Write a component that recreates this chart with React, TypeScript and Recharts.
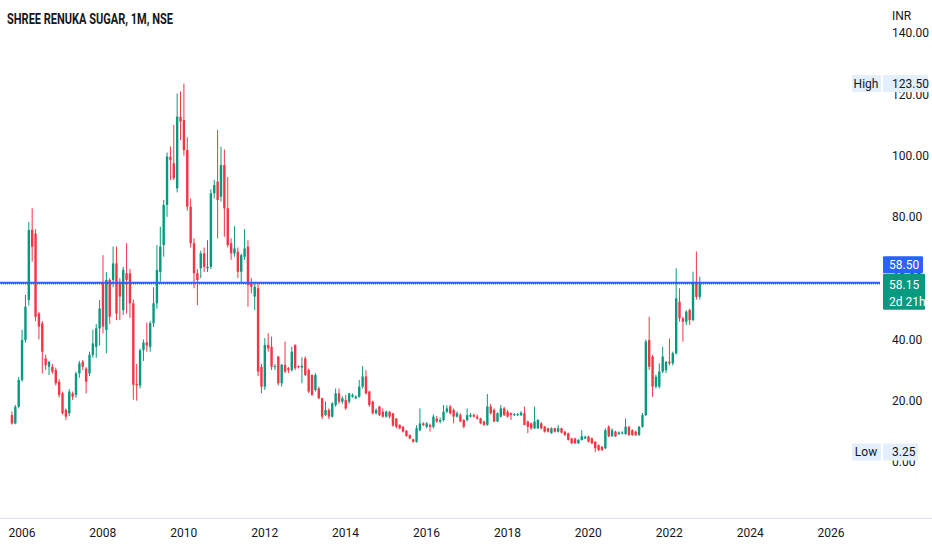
import React from 'react';
import { ComposedChart, Bar, XAxis, YAxis, ReferenceLine } from 'recharts';

/* Monthly candles, NSE: SHREERENUKA — [open, high, low, close], first bar Oct 2005 */
const candles2005to2007: number[][] = [
  [15.3, 16.5, 12.2, 12.6], [12.6, 18.6, 12.3, 18.0], [18.0, 27.8, 17.5, 26.8],
  [26.8, 43.1, 26.2, 39.8], [39.8, 54.5, 39.0, 50.7], [52.9, 78.4, 51.0, 75.7], [75.7, 82.8, 65.4, 70.3],
  [74.6, 76.0, 46.0, 47.4], [48.5, 49.0, 40.0, 44.2], [45.2, 46.0, 28.9, 36.0], [33.8, 35.0, 30.0, 31.6],
  [31.1, 33.0, 28.4, 32.7], [31.1, 32.0, 28.8, 29.5], [30.0, 30.8, 25.0, 25.7], [26.2, 27.0, 21.0, 21.9],
  [22.4, 23.0, 15.5, 15.9], [17.0, 17.5, 13.7, 14.8], [15.9, 23.8, 15.0, 23.0], [22.4, 23.0, 20.2, 21.3],
  [21.9, 29.5, 21.0, 28.9], [28.9, 33.0, 27.5, 32.2], [32.7, 33.3, 30.0, 31.1], [30.5, 31.0, 22.4, 26.2],
  [28.9, 36.0, 28.0, 35.0], [34.9, 43.1, 34.0, 38.7], [37.6, 45.0, 34.0, 43.6], [43.6, 52.9, 38.0, 50.1],
];
const candles2008to2009: number[][] = [
  [58.3, 67.5, 42.0, 44.2], [43.1, 62.0, 35.5, 59.4], [59.4, 60.0, 45.0, 47.4], [59.4, 70.3, 57.0, 64.8],
  [64.8, 70.3, 46.3, 48.5], [58.3, 60.0, 46.3, 54.0], [49.6, 63.7, 48.0, 62.7], [61.6, 71.4, 48.5, 59.4],
  [61.6, 63.0, 47.0, 51.8], [51.8, 53.0, 20.3, 25.2], [25.5, 32.0, 20.0, 25.0], [25.0, 37.0, 24.0, 36.5],
  [36.5, 40.0, 33.0, 39.0], [39.0, 45.5, 36.0, 38.0], [37.6, 46.0, 36.0, 45.3], [45.3, 57.0, 44.0, 51.8],
  [51.8, 70.8, 50.0, 62.7], [62.0, 76.8, 58.8, 70.3], [70.8, 85.5, 67.0, 83.9], [83.9, 101.0, 80.0, 99.7],
  [99.6, 103.0, 92.0, 98.6], [97.5, 110.0, 92.0, 92.6], [89.3, 120.3, 88.0, 112.7], [112.7, 120.9, 105.0, 111.1],
];
const candles2010to2011: number[][] = [
  [111.6, 123.5, 100.0, 101.8], [101.8, 106.0, 82.0, 83.3], [83.3, 86.0, 70.0, 71.4], [71.4, 73.0, 56.7, 61.6],
  [61.6, 63.0, 51.2, 59.4], [63.2, 69.0, 60.0, 68.1], [68.1, 70.0, 62.0, 63.7], [63.2, 72.4, 62.0, 63.7],
  [63.7, 89.0, 63.0, 87.7], [87.7, 92.0, 86.0, 90.4], [91.5, 108.4, 73.0, 85.5], [86.6, 102.9, 85.0, 96.9],
  [96.9, 102.0, 73.5, 82.8], [82.8, 93.0, 70.0, 70.8], [71.4, 73.0, 66.0, 68.1], [68.1, 77.0, 67.0, 69.7],
  [68.6, 70.0, 60.0, 62.1], [62.1, 68.0, 58.3, 67.5], [67.0, 76.0, 66.0, 69.7], [70.3, 72.4, 50.7, 57.8],
  [58.3, 60.0, 55.0, 57.2], [54.0, 58.0, 49.6, 57.2], [56.7, 58.0, 28.0, 29.5], [31.0, 32.0, 22.5, 24.6],
];
const candles2012to2014: number[][] = [
  [24.6, 40.4, 23.5, 38.2], [38.2, 42.0, 36.0, 37.1], [37.6, 40.9, 30.0, 31.1], [31.0, 32.0, 30.0, 31.3],
  [34.4, 34.6, 25.0, 25.7], [25.7, 32.0, 24.6, 31.7], [31.7, 39.3, 29.0, 29.5], [30.6, 31.0, 29.0, 30.0],
  [30.0, 37.6, 29.5, 36.0], [38.2, 38.4, 30.0, 30.6], [31.3, 31.5, 30.5, 31.0], [30.8, 34.2, 25.7, 31.4],
  [33.8, 34.5, 28.0, 28.4], [30.0, 30.5, 22.5, 23.0], [28.4, 28.6, 21.5, 21.9], [23.5, 29.0, 23.0, 28.4],
  [24.0, 24.6, 20.5, 20.8], [20.8, 21.0, 14.0, 14.8], [15.3, 19.7, 15.0, 17.0], [17.0, 17.5, 14.0, 14.8],
  [14.8, 19.5, 14.5, 19.1], [18.6, 24.0, 18.0, 22.4], [22.4, 24.0, 19.0, 19.7], [19.7, 21.5, 19.0, 20.8],
  [20.2, 21.9, 17.0, 17.5], [19.7, 22.4, 19.0, 22.4], [21.3, 22.4, 21.0, 21.9], [20.8, 21.8, 20.5, 21.3],
  [21.3, 26.8, 21.0, 24.6], [24.6, 31.3, 24.0, 27.9], [27.9, 30.0, 22.0, 22.4], [23.0, 23.2, 18.0, 18.6],
  [19.7, 20.0, 15.5, 15.9], [15.9, 17.5, 15.5, 17.0], [18.1, 18.3, 15.0, 15.3], [16.4, 17.5, 14.5, 14.8],
];
const candles2015to2017: number[][] = [
  [14.8, 16.8, 14.5, 16.4], [16.4, 16.6, 14.2, 14.8], [15.9, 16.0, 11.5, 11.9], [14.2, 14.3, 11.0, 11.5],
  [12.1, 12.3, 10.7, 11.0], [11.5, 11.7, 9.6, 9.9], [10.2, 10.4, 8.2, 8.5], [8.8, 9.0, 7.4, 7.7],
  [7.4, 7.6, 6.3, 6.6], [6.6, 12.0, 6.3, 11.0], [10.4, 17.5, 10.0, 12.6], [12.6, 13.0, 11.7, 12.1],
  [11.5, 13.0, 11.0, 12.6], [12.1, 12.5, 9.9, 11.5], [11.5, 15.5, 11.0, 14.8], [14.2, 15.0, 12.8, 13.2],
  [13.2, 14.5, 12.6, 13.7], [13.7, 18.6, 13.2, 16.4], [16.4, 18.5, 16.0, 17.5], [18.1, 18.6, 15.5, 15.9],
  [17.0, 17.5, 12.6, 14.8], [14.8, 16.5, 14.5, 15.9], [15.3, 15.9, 13.0, 13.2], [13.7, 14.0, 11.0, 11.5],
  [13.7, 17.5, 13.2, 15.3], [14.8, 16.0, 14.5, 15.3], [15.3, 15.8, 14.5, 14.8], [14.8, 15.5, 13.8, 14.2],
  [14.2, 14.5, 12.3, 12.6], [13.2, 13.5, 11.8, 12.1], [12.1, 22.2, 11.8, 18.1], [18.1, 19.0, 15.5, 15.9],
  [17.0, 17.5, 13.0, 13.2], [13.2, 16.2, 13.0, 15.9], [14.8, 18.6, 14.5, 17.5], [17.5, 18.0, 15.0, 15.3],
];
const candles2018to2020: number[][] = [
  [16.4, 17.0, 14.5, 14.8], [15.9, 16.2, 13.7, 15.3], [15.3, 16.0, 15.0, 15.6], [15.3, 16.0, 15.0, 15.6],
  [15.3, 16.6, 15.0, 16.1], [15.9, 18.1, 12.0, 12.1], [13.2, 13.5, 9.4, 11.5], [12.6, 12.8, 10.5, 11.0],
  [11.0, 18.1, 10.8, 13.2], [11.0, 14.0, 10.8, 13.7], [12.6, 13.0, 10.6, 11.0], [11.5, 11.8, 9.6, 9.9],
  [11.0, 11.2, 9.6, 9.9], [9.4, 11.3, 9.2, 11.0], [11.0, 11.2, 9.6, 9.9], [9.9, 12.1, 9.6, 11.0],
  [11.0, 11.2, 9.3, 9.6], [9.9, 10.1, 8.5, 8.8], [9.4, 9.6, 7.0, 7.2], [7.7, 7.9, 5.9, 6.1],
  [7.7, 7.9, 5.9, 6.1], [6.1, 7.5, 5.9, 7.2], [7.2, 10.4, 7.0, 8.4], [7.7, 8.6, 7.5, 8.2],
  [8.3, 8.6, 6.4, 6.6], [7.7, 8.0, 5.8, 6.1], [6.6, 6.8, 3.25, 4.5], [5.5, 5.7, 3.6, 3.9],
  [5.0, 5.2, 3.6, 3.9], [4.5, 11.0, 4.2, 10.4], [11.5, 12.0, 8.1, 8.4], [8.4, 11.0, 8.2, 10.4],
  [9.9, 10.2, 8.1, 8.4], [9.1, 10.0, 8.9, 9.6], [9.3, 10.0, 9.0, 9.6], [9.1, 14.2, 8.9, 11.5],
];
const candles2021to2022: number[][] = [
  [11.5, 11.8, 8.5, 8.8], [10.4, 10.7, 8.5, 8.8], [9.9, 10.2, 8.5, 8.8], [8.8, 11.8, 8.5, 11.5],
  [11.5, 16.0, 11.2, 15.3], [15.3, 40.0, 15.0, 39.3], [39.8, 47.4, 30.0, 31.1], [34.4, 35.0, 21.3, 24.6],
  [24.6, 28.5, 24.0, 27.8], [24.6, 32.2, 24.0, 29.5], [29.5, 37.6, 29.0, 34.4], [30.0, 33.0, 29.0, 32.7],
  [32.7, 40.3, 31.5, 32.2], [32.2, 36.0, 31.5, 35.5], [35.5, 63.2, 35.0, 53.4], [52.3, 56.7, 45.8, 46.9],
  [46.9, 47.4, 39.3, 45.8], [45.8, 49.5, 44.7, 49.1], [49.6, 50.0, 44.7, 46.3], [46.3, 62.1, 46.0, 58.8],
  [58.8, 68.7, 53.0, 53.9], [53.9, 60.5, 53.0, 58.15],
];

const yearTicks = [2006, 2008, 2010, 2012, 2014, 2016, 2018, 2020, 2022, 2024, 2026];
const priceTicks = [0, 20, 40, 60, 80, 100, 120, 140];
const ALL_TIME_HIGH = 123.5;
const ALL_TIME_LOW = 3.25;
const LINE_LEVEL = 58.5;
const LAST_PRICE = 58.15;
const COUNTDOWN = '2d 21h';

const GREEN = '#089981';
const RED = '#f23645';
const BLUE = '#2962ff';
const TEXT = '#131722';
const TAG_BG = '#e3effd';
const Y_DOMAIN: [number, number] = [-18.28, 150.78];

const allCandles = [
  ...candles2005to2007, ...candles2008to2009, ...candles2010to2011, ...candles2012to2014,
  ...candles2015to2017, ...candles2018to2020, ...candles2021to2022,
];

// month slots from Jul 2005 to Jun 2027 (index 0 = Oct 2005)
const data: any[] = [];
for (let t = -3; t <= 257; t++) {
  const row: any = { t };
  const k = allCandles[t];
  if (t >= 0 && k) {
    row.o = k[0]; row.h = k[1]; row.l = k[2]; row.c = k[3];
    row.range = [k[2], k[1]];
  }
  data.push(row);
}

const yearLabel = (t: number) => {
  const m = ((9 + t) % 12 + 12) % 12;
  const year = 2005 + Math.floor((9 + t) / 12);
  return m === 0 && yearTicks.includes(year) ? String(year) : '';
};

const Candle = (props: any) => {
  const { x, y, width, height, payload } = props;
  if (!payload || payload.o == null) return null;
  const { o, h, l, c } = payload;
  const top = Math.min(y, y + height);
  const span = Math.abs(height);
  const k = h > l ? span / (h - l) : 0;
  const cx = x + width / 2;
  const yO = top + (h - o) * k;
  const yC = top + (h - c) * k;
  const color = c >= o ? GREEN : RED;
  const bt = Math.min(yO, yC);
  const bh = Math.max(1, Math.abs(yO - yC));
  return (
    <g>
      <line x1={cx} x2={cx} y1={top} y2={top + span} stroke={color} strokeWidth={1} />
      <rect x={cx - 1.2} y={bt} width={2.4} height={bh} fill={color} />
    </g>
  );
};

const ExtremeTag = (props: any) => {
  const { viewBox, name, value } = props;
  if (!viewBox) return null;
  const right = viewBox.x + viewBox.width;
  const cy = viewBox.y;
  return (
    <g>
      <rect x={right - 28} y={cy - 8.5} width={29} height={17} fill={TAG_BG} />
      <rect x={right + 3} y={cy - 8.5} width={value.length > 4 ? 45 : 35} height={17} fill={TAG_BG} />
      <text x={right - 14} y={cy + 4} textAnchor="middle" fontSize={12} fill={TEXT}>{name}</text>
      <text x={right + 12} y={cy + 4} fontSize={12} fill={TEXT}>{value}</text>
    </g>
  );
};

const LastPriceTag = (props: any) => {
  const { viewBox } = props;
  if (!viewBox) return null;
  const right = viewBox.x + viewBox.width;
  const cy = viewBox.y;
  return (
    <g>
      <rect x={right + 3} y={cy - 27.5} width={40} height={17} rx={1} fill={BLUE} />
      <text x={right + 9} y={cy - 14.5} fontSize={12} fill="#ffffff">{LINE_LEVEL.toFixed(2)}</text>
      <rect x={right + 3} y={cy - 10} width={42} height={36} rx={1} fill={GREEN} />
      <text x={right + 9} y={cy + 5.5} fontSize={12} fill="#ffffff">{LAST_PRICE.toFixed(2)}</text>
      <text x={right + 9} y={cy + 22} fontSize={12} fill="#ffffff">{COUNTDOWN}</text>
    </g>
  );
};

const chartMargin = { top: 0, right: 0, bottom: 0, left: 0 };

export default function App() {
  return (
    <div style={{ position: 'relative', width: 932, height: 550, background: '#ffffff', fontFamily: 'Roboto, sans-serif' }}>
      <style>{'body{margin:0}'}</style>
      <ComposedChart width={932} height={550} data={data} margin={chartMargin}>
        <XAxis
          dataKey="t"
          type="category"
          interval={0}
          height={32}
          tickFormatter={yearLabel}
          tickLine={false}
          axisLine={false}
          tickMargin={4}
          tick={{ fontSize: 12, fill: TEXT }}
        />
        <YAxis
          orientation="right"
          width={52}
          type="number"
          domain={Y_DOMAIN}
          allowDataOverflow
          ticks={priceTicks}
          tickFormatter={(v: number) => v.toFixed(2)}
          tickLine={false}
          axisLine={false}
          tickMargin={6}
          tick={{ fontSize: 12, fill: TEXT }}
        />
        <ReferenceLine y={LAST_PRICE} stroke={BLUE} strokeWidth={1.5} strokeDasharray="1 1" />
        <ReferenceLine y={LINE_LEVEL} stroke={BLUE} strokeWidth={2} />
        <Bar dataKey="range" shape={<Candle />} isAnimationActive={false} />
      </ComposedChart>

      {/* price-axis tags sit above the tick labels, as in the original */}
      <div style={{ position: 'absolute', left: 0, top: 0, pointerEvents: 'none' }}>
        <ComposedChart width={932} height={550} data={data} margin={chartMargin}>
          <XAxis dataKey="t" type="category" height={32} tick={false} tickLine={false} axisLine={false} />
          <YAxis orientation="right" width={52} type="number" domain={Y_DOMAIN} allowDataOverflow tick={false} tickLine={false} axisLine={false} />
          <ReferenceLine y={ALL_TIME_HIGH} stroke="none" label={<ExtremeTag name="High" value={ALL_TIME_HIGH.toFixed(2)} />} />
          <ReferenceLine y={ALL_TIME_LOW} stroke="none" label={<ExtremeTag name="Low" value={ALL_TIME_LOW.toFixed(2)} />} />
          <ReferenceLine y={LAST_PRICE} stroke="none" label={<LastPriceTag />} />
        </ComposedChart>
      </div>

      <div style={{ position: 'absolute', left: 0, top: 518, width: 932, height: 1, background: '#e0e3eb' }} />
      <svg style={{ position: 'absolute', left: 0, top: 0 }} width={932} height={30}>
        <text x={7} y={24} fontSize={15} fontWeight={700} fill={TEXT} textLength={166} lengthAdjust="spacingAndGlyphs">
          SHREE RENUKA SUGAR, 1M, NSE
        </text>
        <text x={892} y={20} fontSize={12} fill={TEXT}>INR</text>
      </svg>
    </div>
  );
}
